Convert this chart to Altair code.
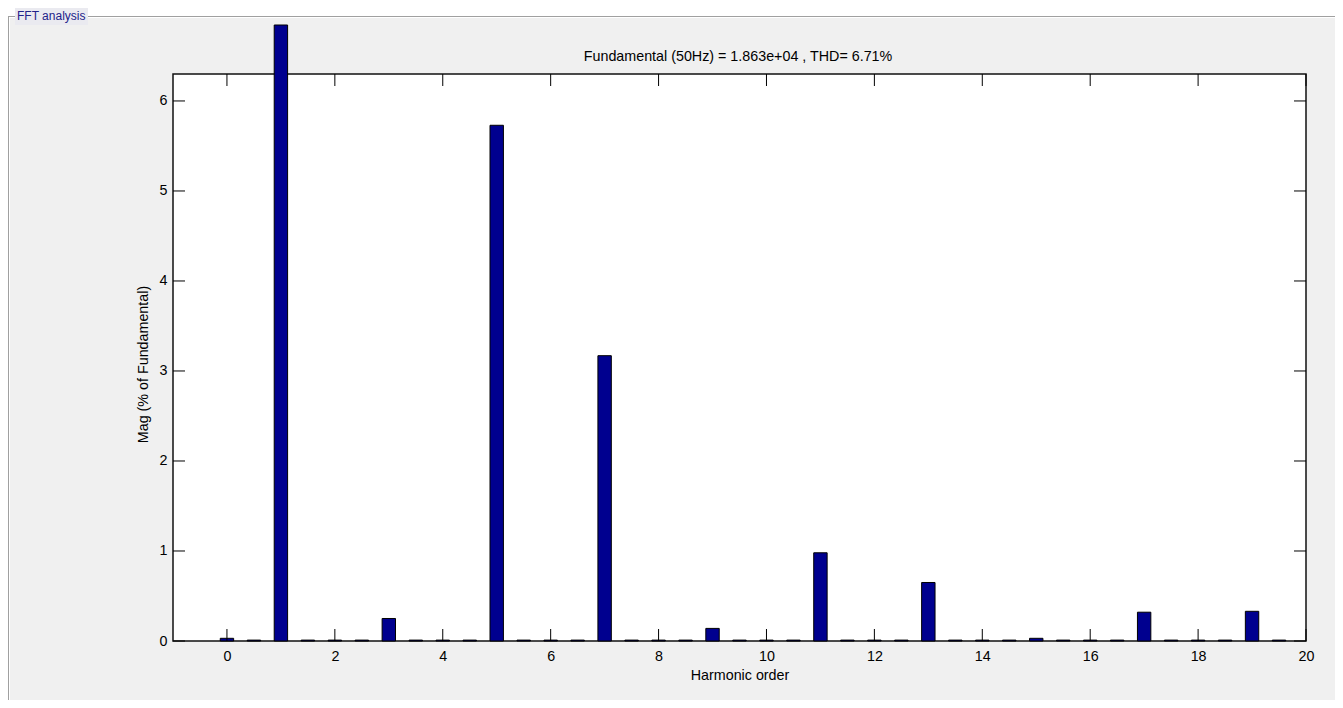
import altair as alt
import pandas as pd

# ---- data -------------------------------------------------------------
harmonic_order = [0, 0.5, 1, 1.5, 2, 2.5, 3, 3.5, 4, 4.5,
                  5, 5.5, 6, 6.5, 7, 7.5, 8, 8.5, 9, 9.5,
                  10, 10.5, 11, 11.5, 12, 12.5, 13, 13.5, 14, 14.5,
                  15, 15.5, 16, 16.5, 17, 17.5, 18, 18.5, 19, 19.5]
magnitude = [0.03, 0.01, 100, 0.01, 0.01, 0.01, 0.25, 0.01, 0.01, 0.01,
             5.73, 0.01, 0.01, 0.01, 3.17, 0.01, 0.01, 0.01, 0.14, 0.01,
             0.01, 0.01, 0.98, 0.01, 0.01, 0.01, 0.65, 0.01, 0.01, 0.01,
             0.03, 0.01, 0.01, 0.01, 0.32, 0.01, 0.01, 0.01, 0.33, 0.01]
x_ticks = [0, 2, 4, 6, 8, 10, 12, 14, 16, 18, 20]
y_ticks = [0, 1, 2, 3, 4, 5, 6]
title_text = "Fundamental (50Hz) = 1.863e+04 , THD= 6.71%"
panel_label = "FFT analysis"
x_title = "Harmonic order"
y_title = "Mag (% of Fundamental)"

bars_df = pd.DataFrame({"h": harmonic_order, "m": magnitude})
xt_df = pd.DataFrame({"h": x_ticks})
yt_df = pd.DataFrame({"m": y_ticks})
one = pd.DataFrame({"label": [title_text]})
lab = pd.DataFrame({"label": [panel_label]})

FONT = "Liberation Sans"
FS = 14.3
W, H = 1133, 567
BG = "#f0f0f0"

x_scale = alt.Scale(domain=[-1, 20], nice=False, zero=False, padding=0)
# plot area shows 0..6.3; range extended above the box so the clipped
# fundamental bar sticks out above the axes like in the MATLAB figure
y_scale = alt.Scale(domain=[0, 6.844], range=[H, -49], clamp=True, nice=False, zero=True)

x_axis = alt.Axis(values=x_ticks, ticks=False, tickSize=0, domain=False, grid=False,
                  labelPadding=8, labelFontSize=FS, labelColor="black", labelFont=FONT,
                  labelOverlap=False, labelFlush=False, format="d",
                  title=x_title, titleFont=FONT, titleFontSize=FS, titleFontWeight="normal",
                  titleColor="black", titleX=W / 2, titleY=38, titleAlign="center",
                  titleBaseline="alphabetic")
y_axis = alt.Axis(values=y_ticks, ticks=False, tickSize=0, domain=False, grid=False,
                  labelPadding=6, labelFontSize=FS, labelColor="black", labelFont=FONT,
                  labelOverlap=False, labelFlush=False, format="d",
                  title=y_title, titleFont=FONT, titleFontSize=FS, titleFontWeight="normal",
                  titleColor="black", titleX=-29.5, titleY=290, titleAngle=270,
                  titleAlign="center", titleBaseline="middle")

# ---- decorations: white strip above the panel, etched panel border ----
top_strip = alt.Chart(one).mark_rect(color="white", clip=False).encode(
    x=alt.value(-165), x2=alt.value(1162), y=alt.value(-66), y2=alt.value(-58))
border_top = alt.Chart(one).mark_rule(color="#a0a0a0", clip=False).encode(
    x=alt.value(-165), x2=alt.value(1162), y=alt.value(-57.5))
border_top_hi = alt.Chart(one).mark_rule(color="white", clip=False).encode(
    x=alt.value(-164), x2=alt.value(1162), y=alt.value(-56.5))
border_left = alt.Chart(one).mark_rule(color="#a0a0a0", clip=False).encode(
    x=alt.value(-164.5), y=alt.value(-58), y2=alt.value(626))
border_left_hi = alt.Chart(one).mark_rule(color="white", clip=False).encode(
    x=alt.value(-163.5), y=alt.value(-57), y2=alt.value(626))
label_box = alt.Chart(one).mark_rect(color="#eaeaf0", clip=False).encode(
    x=alt.value(-158), x2=alt.value(-85), y=alt.value(-66), y2=alt.value(-49))
label_text = alt.Chart(lab).mark_text(align="left", baseline="alphabetic", font=FONT,
                                      fontSize=12, color="#22228a", clip=False).encode(
    x=alt.value(-156), y=alt.value(-54), text="label:N")

title = alt.Chart(one).mark_text(align="center", baseline="alphabetic", font=FONT,
                                 fontSize=FS, color="black", clip=False).encode(
    x=alt.value(565), y=alt.value(-13.5), text="label:N")

# ---- bars -------------------------------------------------------------
bars = alt.Chart(bars_df).mark_bar(size=13.4, color="#00008f", stroke="black",
                                   strokeWidth=1, clip=False).encode(
    x=alt.X("h:Q", scale=x_scale, axis=x_axis),
    y=alt.Y("m:Q", scale=y_scale, axis=y_axis, stack=None),
)

# ---- inward ticks on all four sides ----------------------------------
xt_bottom = alt.Chart(xt_df).mark_rule(color="black", clip=False).encode(
    x=alt.X("h:Q", scale=x_scale, axis=x_axis), y=alt.value(H), y2=alt.value(H - 12))
xt_top = alt.Chart(xt_df).mark_rule(color="black", clip=False).encode(
    x=alt.X("h:Q", scale=x_scale, axis=x_axis), y=alt.value(0), y2=alt.value(12))
yt_left = alt.Chart(yt_df).mark_rule(color="black", clip=False).encode(
    y=alt.Y("m:Q", scale=y_scale, axis=y_axis), x=alt.value(0), x2=alt.value(12))
yt_right = alt.Chart(yt_df).mark_rule(color="black", clip=False).encode(
    y=alt.Y("m:Q", scale=y_scale, axis=y_axis), x=alt.value(W), x2=alt.value(W - 12))

chart = alt.layer(
    bars, top_strip, border_top, border_top_hi, border_left, border_left_hi,
    label_box, label_text, title,
    xt_bottom, xt_top, yt_left, yt_right,
).properties(
    width=W, height=H,
    padding={"left": 165, "top": 66, "right": 29, "bottom": 59},
    autosize=alt.AutoSizeParams(type="none"),
    background=BG,
).configure(font=FONT).configure_view(
    fill="white", stroke="#111111", strokeWidth=1.5
)

chart.save("out.html", embed_options={"renderer": "svg", "actions": False})
